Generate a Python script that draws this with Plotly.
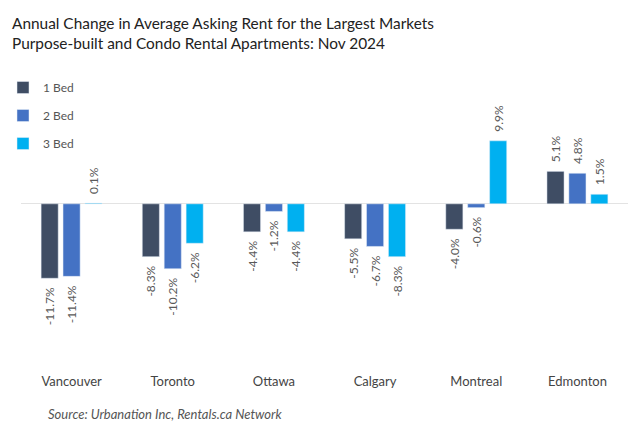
import plotly.graph_objects as go

cities = ["Vancouver", "Toronto", "Ottawa", "Calgary", "Montreal", "Edmonton"]
bed1 = [-11.7, -8.3, -4.4, -5.5, -4.0, 5.1]
bed2 = [-11.4, -10.2, -1.2, -6.7, -0.6, 4.8]
bed3 = [0.1, -6.2, -4.4, -8.3, 9.9, 1.5]
series_names = ["1 Bed", "2 Bed", "3 Bed"]
colors = ["#3F4D64", "#4472C4", "#00B0F0"]

NB = "\u00a0"

def labels(vals):
    out = []
    for v in vals:
        s = f"{v:.1f}%"
        out.append(s + NB * 2 if v < 0 else NB * 2 + s)
    return out

fig = go.Figure()
for name, vals, col in zip(series_names, [bed1, bed2, bed3], colors):
    fig.add_trace(go.Bar(
        x=cities, y=vals, name=name, marker_color=col, legendgroup=name,
        text=labels(vals), textposition="outside", textangle=-90,
        constraintext="none",
        textfont=dict(size=12, color="#595959", family="Lato"),
        cliponaxis=False, hoverinfo="skip",
    ))

W, H = 640, 436
PL, PR = 21, 628
PT, PB = 60, 368
PW, PH = PR - PL, PB - PT

def px_(x):
    return (x - PL) / PW

def py(y):
    return (PB - y) / PH

fig.update_layout(
    width=W, height=H,
    margin=dict(l=PL, r=W - PR, t=PT, b=H - PB, autoexpand=False),
    paper_bgcolor="white", plot_bgcolor="white",
    barmode="group", bargap=0.35, bargroupgap=0.22,
    font=dict(family="Lato", color="#444"),
    legend=dict(
        xref="container", yref="container",
        x=3 / W, y=1 - 73 / H, xanchor="left", yanchor="top",
        font=dict(size=12, color="#555"), traceorder="grouped",
        tracegroupgap=9, itemwidth=30, bgcolor="rgba(0,0,0,0)",
    ),
    showlegend=True,
)
fig.update_xaxes(showline=False, showgrid=False, ticks="", tickfont=dict(size=13, color="#444"),
                 ticklabelstandoff=4, automargin=False)
fig.update_yaxes(range=[-25.8, 22.6], showgrid=False, showticklabels=False, zeroline=True,
                 zerolinecolor="#E3E3E3", zerolinewidth=1, automargin=False)
fig.add_annotation(
    text="Annual Change in Average Asking Rent for the Largest Markets<br>Purpose-built and Condo Rental Apartments: Nov 2024",
    xref="paper", yref="paper", x=px_(10), y=py(12),
    xanchor="left", yanchor="top", align="left", showarrow=False,
    font=dict(size=15.4, color="#222", family="Lato"),
)
fig.add_annotation(
    text="<i>Source: Urbanation Inc, Rentals.ca Network</i>",
    xref="paper", yref="paper", x=px_(46), y=py(414),
    xanchor="left", yanchor="middle", showarrow=False,
    font=dict(size=13, color="#555", family="Lato"),
)
fig.write_html("out.html")
